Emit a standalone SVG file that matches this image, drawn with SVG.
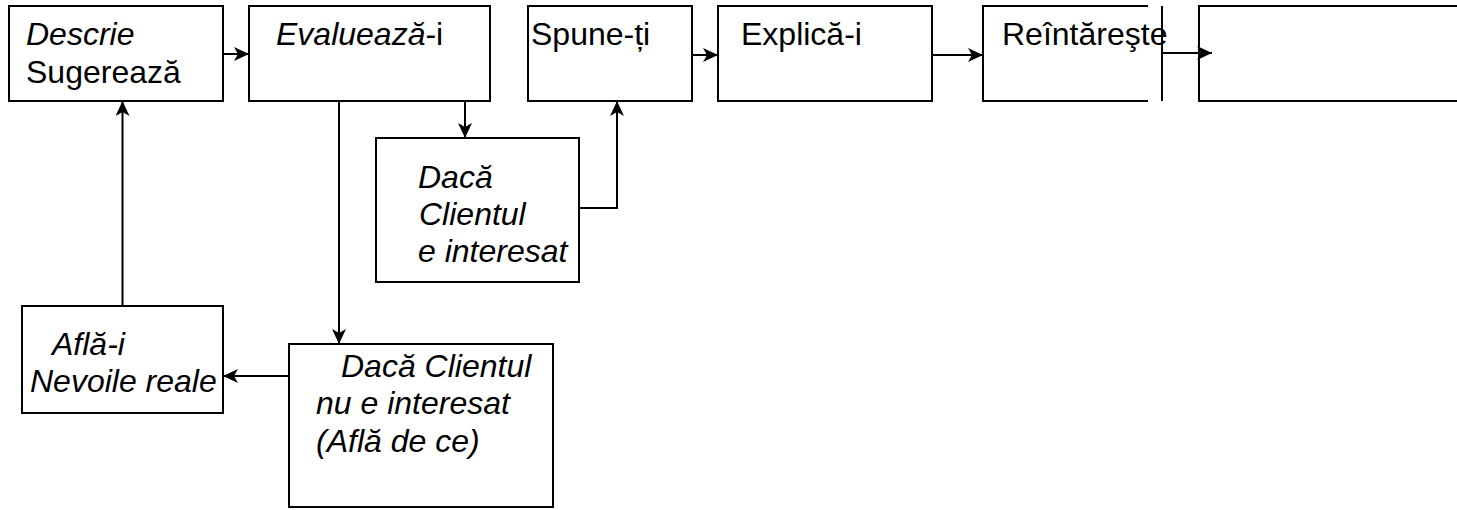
<svg xmlns="http://www.w3.org/2000/svg" width="1457" height="510" viewBox="0 0 1457 510">
<defs>
<style>
.box{fill:#fff;stroke:#000;stroke-width:2}
.ln{fill:none;stroke:#000;stroke-width:2}
.t{font-family:"Liberation Sans",Arial,sans-serif;font-size:32px;fill:#000}
.i{font-style:italic}
</style>
<marker id="ah" markerUnits="userSpaceOnUse" markerWidth="16" markerHeight="15" refX="15" refY="7" orient="auto">
<path d="M0,0 L15,7 L0,14 L4,7 z" fill="#000"/>
</marker>
</defs>
<rect width="1457" height="510" fill="#fff"/>
<g id="descrie">
<rect class="box" x="9" y="6" width="214" height="95"/>
<text class="t" x="26" y="45"><tspan class="i">Descrie</tspan></text>
<text class="t" x="26" y="83">Sugerează</text>
</g>
<g id="evalueaza">
<rect class="box" x="249" y="6" width="241" height="95"/>
<text class="t" x="276" y="45"><tspan class="i">Evaluează</tspan>-i</text>
</g>
<g id="spune">
<rect class="box" x="528" y="6" width="164" height="95"/>
<text class="t" x="531" y="45">Spune-ți</text>
</g>
<g id="explica">
<rect class="box" x="718" y="6" width="214" height="95"/>
<text class="t" x="741" y="45">Explică-i</text>
</g>
<g id="reintareste">
<path class="ln" d="M1148,6 H983 V101 H1148"/>
<text class="t" x="1002" y="45">Reîntăreşte</text>
</g>
<g id="blank">
<rect class="box" x="1199" y="6" width="280" height="95"/>
</g>
<g id="interesat">
<rect class="box" x="376" y="138" width="203" height="144"/>
<text class="t i" x="418" y="188">Dacă</text>
<text class="t i" x="419" y="225">Clientul</text>
<text class="t i" x="418" y="262">e interesat</text>
</g>
<g id="nuinteresat">
<rect class="box" x="289" y="344" width="264" height="163"/>
<text class="t i" x="341" y="377">Dacă Clientul</text>
<text class="t i" x="316" y="414">nu e interesat</text>
<text class="t i" x="316" y="452">(Află de ce)</text>
</g>
<g id="afla">
<rect class="box" x="22" y="306" width="201" height="107"/>
<text class="t i" x="52" y="355">Află-i</text>
<text class="t i" x="30" y="392">Nevoile reale</text>
</g>
<g id="connectors">
<line class="ln" x1="223" y1="54" x2="249" y2="54" marker-end="url(#ah)"/>
<line class="ln" x1="465" y1="101" x2="465" y2="138" marker-end="url(#ah)"/>
<polyline class="ln" points="579,208 617,208 617,101" marker-end="url(#ah)"/>
<line class="ln" x1="692" y1="55" x2="718" y2="55" marker-end="url(#ah)"/>
<line class="ln" x1="932" y1="55" x2="983" y2="55" marker-end="url(#ah)"/>
<line class="ln" x1="1162" y1="6" x2="1162" y2="101"/>
<line class="ln" x1="1162" y1="53" x2="1212" y2="53" marker-end="url(#ah)"/>
<line class="ln" x1="339" y1="101" x2="339" y2="344" marker-end="url(#ah)"/>
<line class="ln" x1="289" y1="376" x2="223" y2="376" marker-end="url(#ah)"/>
<line class="ln" x1="122.5" y1="306" x2="122.5" y2="101" marker-end="url(#ah)"/>
</g>
</svg>
